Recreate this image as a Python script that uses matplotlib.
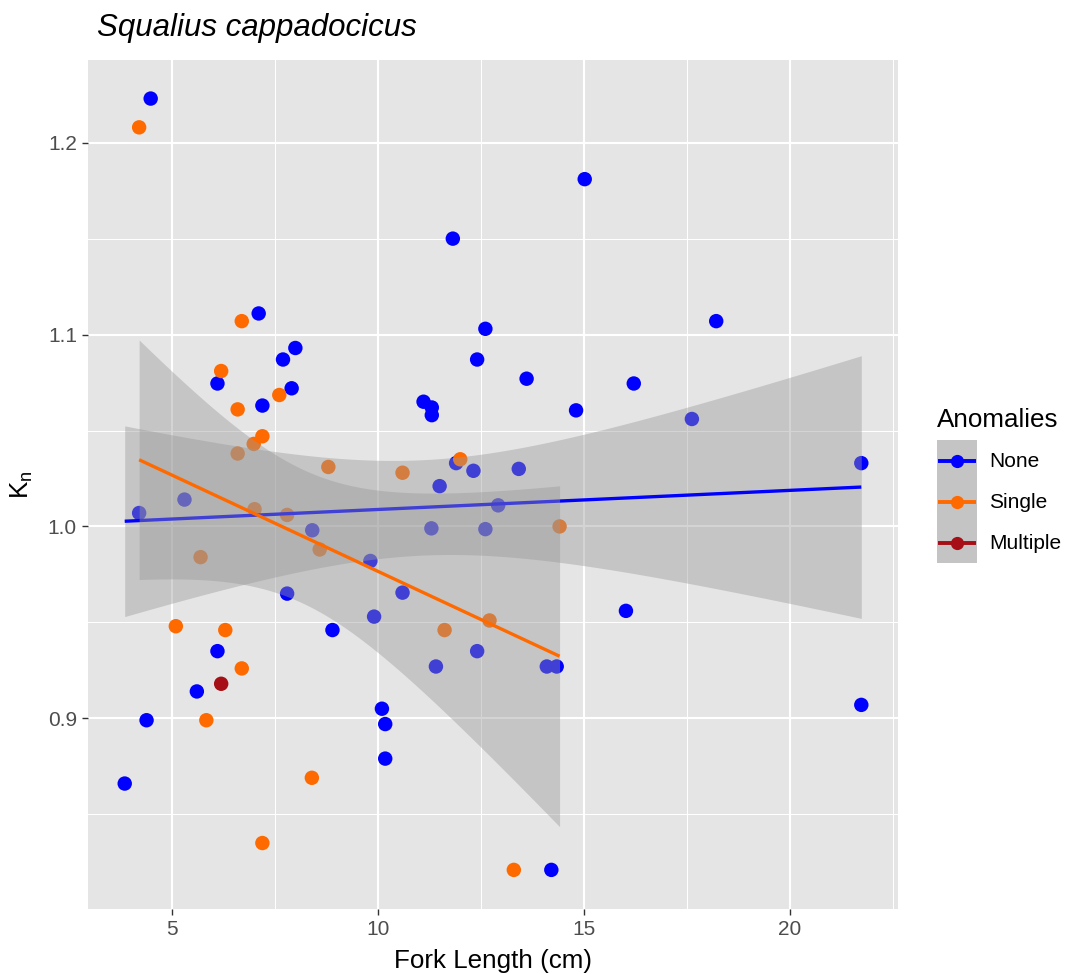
import math
import numpy as np
import matplotlib
matplotlib.use("Agg")
import matplotlib.pyplot as plt
from matplotlib.lines import Line2D
from matplotlib.patches import Rectangle

plt.rcParams['font.family'] = ['Liberation Sans', 'DejaVu Sans']

# fork length (cm) and relative condition factor, one pair of lists per group
none_len = [3.86, 4.49, 4.21, 5.31, 4.39, 5.61, 6.11, 7.11, 8.0, 7.7,
            6.11, 7.91, 7.2, 8.41, 9.82, 7.8, 9.91, 8.9, 10.1, 10.18,
            10.18, 15.02, 11.82, 12.61, 12.41, 13.61, 16.21, 11.11, 11.31, 11.31,
            14.81, 11.9, 12.32, 13.42, 11.5, 12.92, 11.3, 12.61, 10.6, 16.02,
            11.41, 12.41, 14.1, 14.34, 14.21, 18.21, 17.62, 21.73, 21.73]
none_kn = [0.866, 1.223, 1.007, 1.014, 0.899, 0.914, 0.935, 1.111, 1.093, 1.087,
           1.0745, 1.072, 1.063, 0.998, 0.982, 0.965, 0.953, 0.946, 0.905, 0.897,
           0.879, 1.181, 1.150, 1.103, 1.087, 1.077, 1.0745, 1.065, 1.062, 1.058,
           1.0605, 1.033, 1.029, 1.030, 1.021, 1.011, 0.999, 0.9986, 0.9655, 0.956,
           0.927, 0.935, 0.927, 0.927, 0.821, 1.107, 1.056, 1.033, 0.907]

single_len = [4.21, 6.7, 6.2, 6.6, 7.61, 7.2, 6.99, 6.6, 8.8, 7.01,
              7.8, 8.59, 5.7, 5.1, 6.3, 6.7, 5.84, 8.4, 7.2, 13.3,
              12.0, 10.6, 11.62, 12.71, 14.41]
single_kn = [1.208, 1.107, 1.081, 1.061, 1.0685, 1.047, 1.043, 1.038, 1.031, 1.009,
             1.006, 0.988, 0.984, 0.948, 0.946, 0.926, 0.899, 0.869, 0.835, 0.821,
             1.035, 1.028, 0.946, 0.951, 1.000]

multiple_len = [6.2]
multiple_kn = [0.918]

groups = ["None", "Single", "Multiple"]
colors = {"None": "#0000FF", "Single": "#FF6A00", "Multiple": "#A50F15"}
data = {"None": (none_len, none_kn),
        "Single": (single_len, single_kn),
        "Multiple": (multiple_len, multiple_kn)}


def t_quantile(p, df):
    '''
    t_quantile - quantile of student's t by bisection on a numeric cdf
    '''
    c = math.exp(math.lgamma((df + 1) / 2) - math.lgamma(df / 2)) / math.sqrt(df * math.pi)

    def cdf(t):
        xs = np.linspace(0, t, 4001)
        ys = c * (1 + xs ** 2 / df) ** (-(df + 1) / 2)
        return 0.5 + np.trapezoid(ys, xs)

    lo, hi = 0.0, 20.0
    for _ in range(60):
        mid = (lo + hi) / 2
        if cdf(mid) < p:
            lo = mid
        else:
            hi = mid
    return (lo + hi) / 2


def lm_fit(x, y, n_grid=80):
    '''
    lm_fit - linear fit with 95% confidence band like geom_smooth(method="lm")
    '''
    x = np.asarray(x)
    y = np.asarray(y)
    n = len(x)
    slope, intercept = np.polyfit(x, y, 1)
    resid = y - (slope * x + intercept)
    s = math.sqrt(np.sum(resid ** 2) / (n - 2))
    sxx = np.sum((x - x.mean()) ** 2)
    xg = np.linspace(x.min(), x.max(), n_grid)
    yg = slope * xg + intercept
    se = s * np.sqrt(1 / n + (xg - x.mean()) ** 2 / sxx)
    t = t_quantile(0.975, n - 2)
    return xg, yg, yg - t * se, yg + t * se


class KeyHandler:
    '''
    legend key like ggplot: grey ribbon box with a line and a point in its middle
    '''
    def legend_artist(self, legend, orig_handle, fontsize, handlebox):
        x0, y0 = -handlebox.xdescent, -handlebox.ydescent
        w, h = handlebox.width, handlebox.height
        tr = handlebox.get_transform()
        cy = y0 + h / 2
        rect = Rectangle((x0, y0), w, h, facecolor="#C4C4C4", edgecolor="none", transform=tr)
        line = Line2D([x0 + 1, x0 + w - 1], [cy, cy], color=orig_handle, lw=2.8,
                      solid_capstyle="butt", transform=tr)
        dot = Line2D([x0 + w / 2], [cy], marker="o", markersize=9.5, color=orig_handle,
                     markeredgecolor="none", transform=tr)
        for a in (rect, line, dot):
            handlebox.add_artist(a)
        return rect


fig = plt.figure(figsize=(10.67, 9.74), dpi=100)
ax = fig.add_axes([0.0825, 0.0667, 0.8416 - 0.0825, 0.9384 - 0.0667])
ax.set_facecolor("#E5E5E5")

# points first, smooth layers drawn over them
for g in groups:
    x, y = data[g]
    ax.scatter(x, y, s=108, color=colors[g], edgecolors="none", zorder=2)

for i, g in enumerate(groups):
    x, y = data[g]
    if len(x) < 3:
        continue
    xg, yg, lo, hi = lm_fit(x, y)
    ax.fill_between(xg, lo, hi, color="#999999", alpha=0.42, linewidth=0, zorder=3 + 2 * i)
    ax.plot(xg, yg, color=colors[g], lw=2.4, zorder=4 + 2 * i, solid_capstyle="butt")

ax.set_xticks([5, 10, 15, 20])
ax.set_xticks([7.5, 12.5, 17.5, 22.5], minor=True)
ax.set_yticks([0.9, 1.0, 1.1, 1.2])
ax.set_yticks([0.85, 0.95, 1.05, 1.15], minor=True)
ax.set_xlim(2.97, 22.62)
ax.set_ylim(0.8006, 1.2431)
ax.grid(which="major", color="white", lw=1.5, zorder=0)
ax.grid(which="minor", color="white", lw=0.75, zorder=0)
ax.set_axisbelow(True)
for sp in ax.spines.values():
    sp.set_visible(False)
ax.tick_params(which="major", length=4.5, width=1, color="#333333",
               labelsize=15, labelcolor="#4D4D4D", pad=3.5)
ax.tick_params(which="minor", length=0)

ax.set_xlabel("Fork Length (cm)", fontsize=18.7, color="black", labelpad=7)
ax.set_ylabel(r"K$_\mathregular{n}$", fontsize=18.7, color="black", labelpad=9)
ax.set_title("Squalius cappadocicus", loc="left", fontsize=22.5, style="italic",
             pad=17, x=0.011)

leg = fig.legend([colors[g] for g in groups], groups, title="Anomalies",
                 loc="upper left", handler_map={str: KeyHandler()},
                 bbox_to_anchor=(0.8685, 0.592), frameon=False, fontsize=15,
                 title_fontsize=18.7, handlelength=1.92, handleheight=2.65,
                 labelspacing=0.0, handletextpad=0.58, borderpad=0)
leg._legend_box.align = "left"
leg._legend_box.sep = 6

fig.savefig("out.png", dpi=100)
